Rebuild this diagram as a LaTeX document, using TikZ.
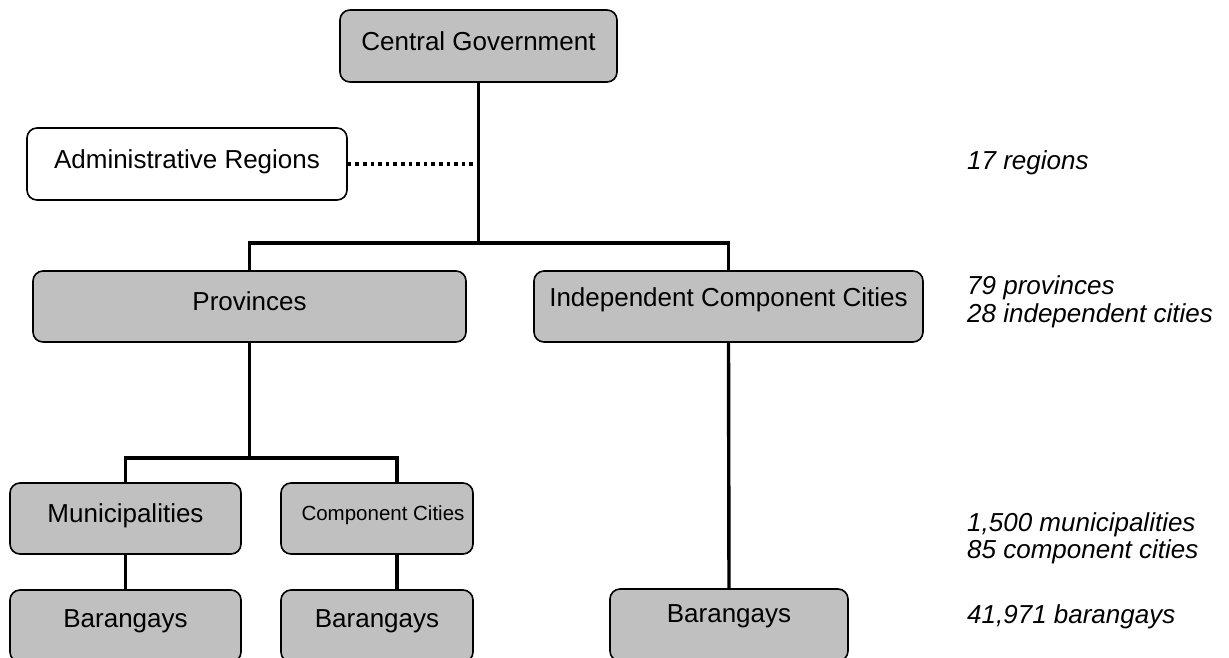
\documentclass[tikz,border=0pt]{standalone}
\usepackage{fontspec}
\setmainfont{Liberation Sans}
\definecolor{boxgray}{HTML}{C0C0C0}
\tikzset{
  gbox/.style={draw=black, line width=1.6pt, rounded corners=10pt, fill=boxgray,
    inner sep=0pt, text depth=0pt, text height=8.6pt, font=\fontsize{26}{30}\selectfont},
  wbox/.style={gbox, fill=white},
  conn/.style={draw=black, line width=3.4pt},
  dotline/.style={draw=black, line width=3.6pt, dash pattern=on 3.6pt off 4pt},
  note/.style={anchor=base west, inner sep=0pt, font=\fontsize{26}{30}\selectfont\itshape}
}
\begin{document}
\begin{tikzpicture}[x=1pt, y=-1pt]
\useasboundingbox (0,0) rectangle (1229,657);
\clip (0,0) rectangle (1229,657);
% boxes
\node[gbox, minimum width=277pt, minimum height=72pt] (cg) at (478.5,46) {Central Government};
\node[wbox, minimum width=320pt, minimum height=72pt] (ar) at (187,164) {Administrative Regions};
\node[gbox, minimum width=433pt, minimum height=71pt, text height=7pt] (prov) at (249.5,306.5) {Provinces};
\node[gbox, minimum width=389pt, minimum height=71pt, text height=0.6pt] (icc) at (728.5,306.5) {Independent Component Cities};
\node[gbox, minimum width=231pt, minimum height=71pt, text height=7pt] (muni) at (125.5,518.5) {Municipalities};
\node[gbox, minimum width=192pt, minimum height=71pt, text height=3.6pt, font=\fontsize{20.5}{24}\selectfont] (cc) at (377,518.5) {\hspace*{12pt}Component Cities};
\node[gbox, minimum width=231pt, minimum height=72pt, text height=3pt] (b1) at (125.5,626) {Barangays};
\node[gbox, minimum width=192pt, minimum height=72pt, text height=3pt] (b2) at (377,626) {Barangays};
\node[gbox, minimum width=238pt, minimum height=72pt, text height=0pt, text depth=5.4pt] (b3) at (729,625) {Barangays};
% junctions
\coordinate (bus1) at (478.5,243);
\coordinate (bus2) at (249.5,458);
% connectors
\draw[conn] (cg.south) -- (bus1);
\draw[conn] (prov.north) |- (bus1) -| (icc.north);
\draw[dotline] (ar.east) -- (ar.east -| cg.south);
\draw[conn] (prov.south) -- (bus2);
\draw[conn] (muni.north) |- (bus2) -| ([xshift=20pt]cc.north);
\draw[conn] (muni.south) -- (b1.north);
\draw[conn] ([xshift=20pt]cc.south) -- ([xshift=20pt]b2.north);
\draw[conn] (icc.south) -- (b3.north);
% notes
\node[note] (n17) at (967,169) {17 regions};
\node[note] (n79) at (967,294) {79 provinces};
\node[note] (n28) at (967,322) {28 independent cities};
\node[note] (n1500) at (967,531) {1,500 municipalities};
\node[note] (n85) at (967,558) {85 component cities};
\node[note] (n41971) at (967,623) {41,971 barangays};
\end{tikzpicture}
\end{document}
